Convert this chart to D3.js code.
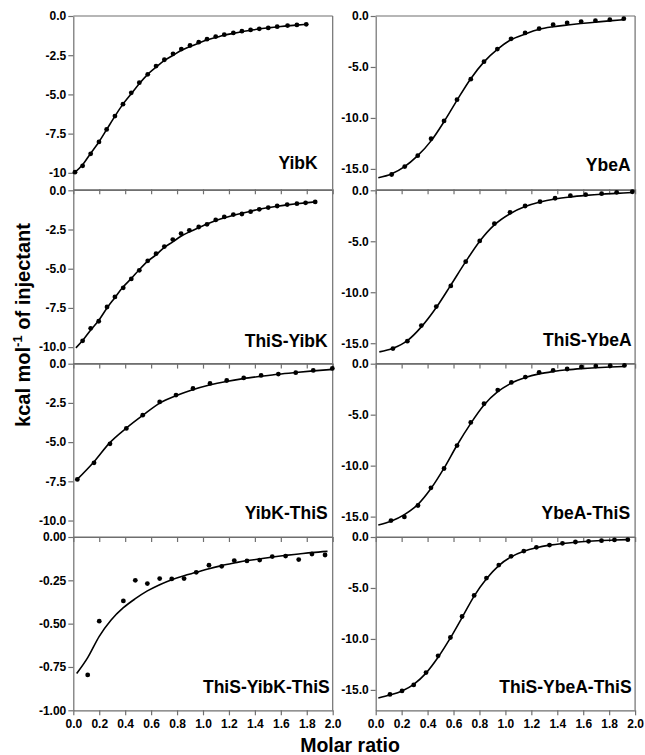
<!DOCTYPE html>
<html lang="en">
<head>
<meta charset="UTF-8">
<title>ITC titrations</title>
<script src="https://d3js.org/d3.v7.min.js"></script>
<style>
  body { margin: 0; background: #fff; font-family: Arial, "Liberation Sans", sans-serif; }
</style>
</head>
<body>
<div id="chart"></div>
<script>
// panel names, in row order (left column, right column)
const leftNames = ["YibK", "ThiS-YibK", "YibK-ThiS", "ThiS-YibK-ThiS"];
const rightNames = ["YbeA", "ThiS-YbeA", "YbeA-ThiS", "ThiS-YbeA-ThiS"];

// x tick labels (molar ratio)
const xTicks = [0, 0.2, 0.4, 0.6, 0.8, 1.0, 1.2, 1.4, 1.6, 1.8, 2.0];
const xTickLabels = ["0.0", "0.2", "0.4", "0.6", "0.8", "1.0", "1.2", "1.4", "1.6", "1.8", "2.0"];

// y tick values / labels
const yTicksLeft = [0, -2.5, -5, -7.5, -10];
const yLabelsYibK = ["0.0", "-2.5", "-5.0", "-7.5", "-10"];
const yLabelsLeft = ["0.0", "-2.5", "-5.0", "-7.5", "-10.0"];
const yTicksSmall = [0, -0.25, -0.5, -0.75, -1.0];
const yLabelsSmall = ["0.00", "-0.25", "-0.50", "-0.75", "-1.00"];
const yTicksRight = [0, -5, -10, -15];
const yLabelsRight = ["0.0", "-5.0", "-10.0", "-15.0"];

// measured injections [molar ratio, kcal/mol]
const yibkPts = [[0.013,-9.96],[0.072,-9.55],[0.134,-8.79],[0.198,-8.03],[0.257,-7.23],[0.321,-6.38],[0.383,-5.62],[0.447,-4.90],[0.509,-4.25],[0.574,-3.72],[0.638,-3.19],[0.702,-2.79],[0.769,-2.41],[0.833,-2.11],[0.900,-1.88],[0.967,-1.67],[1.031,-1.48],[1.098,-1.31],[1.164,-1.19],[1.234,-1.08],[1.300,-0.97],[1.367,-0.89],[1.434,-0.82],[1.503,-0.76],[1.572,-0.68],[1.652,-0.61],[1.724,-0.57],[1.796,-0.53]];
const thisYibkPts = [[0.072,-9.60],[0.134,-8.80],[0.196,-8.35],[0.260,-7.44],[0.321,-6.80],[0.385,-6.22],[0.447,-5.65],[0.509,-5.10],[0.574,-4.50],[0.638,-4.04],[0.702,-3.59],[0.767,-3.14],[0.831,-2.76],[0.895,-2.55],[0.967,-2.34],[1.031,-2.17],[1.098,-1.89],[1.164,-1.70],[1.234,-1.55],[1.300,-1.51],[1.367,-1.36],[1.434,-1.21],[1.503,-1.10],[1.572,-1.00],[1.649,-0.91],[1.724,-0.85],[1.791,-0.80],[1.865,-0.74]];
const yibkThisPts = [[0.031,-7.38],[0.160,-6.32],[0.283,-5.11],[0.409,-4.13],[0.535,-3.28],[0.666,-2.44],[0.792,-2.00],[0.923,-1.58],[1.054,-1.26],[1.183,-1.07],[1.314,-0.91],[1.448,-0.75],[1.581,-0.66],[1.715,-0.57],[1.850,-0.43],[1.997,-0.30]];
const thisYibkThisPts = [[0.111,-0.796],[0.200,-0.486],[0.386,-0.369],[0.478,-0.250],[0.571,-0.269],[0.666,-0.240],[0.759,-0.242],[0.854,-0.240],[0.948,-0.204],[1.046,-0.163],[1.144,-0.169],[1.241,-0.136],[1.339,-0.138],[1.437,-0.133],[1.534,-0.113],[1.637,-0.110],[1.738,-0.130],[1.840,-0.098],[1.941,-0.104]];
const ybeaPts = [[0.123,-15.55],[0.224,-14.77],[0.324,-13.70],[0.427,-12.04],[0.527,-10.29],[0.627,-8.21],[0.733,-6.20],[0.835,-4.48],[0.938,-3.24],[1.044,-2.24],[1.152,-1.66],[1.260,-1.24],[1.368,-0.85],[1.476,-0.68],[1.584,-0.55],[1.694,-0.46],[1.805,-0.36],[1.913,-0.26]];
const thisYbeaPts = [[0.133,-15.53],[0.244,-14.80],[0.352,-13.27],[0.467,-11.41],[0.579,-9.38],[0.694,-7.00],[0.802,-4.97],[0.915,-3.27],[1.036,-2.16],[1.152,-1.54],[1.267,-1.12],[1.383,-0.78],[1.501,-0.53],[1.619,-0.43],[1.742,-0.33],[1.858,-0.20],[1.979,-0.14]];
const ybeaThisPts = [[0.118,-15.39],[0.221,-15.03],[0.326,-13.91],[0.426,-12.18],[0.527,-10.28],[0.627,-8.03],[0.733,-5.76],[0.835,-3.93],[0.941,-2.59],[1.046,-1.84],[1.154,-1.31],[1.260,-0.85],[1.368,-0.66],[1.476,-0.52],[1.586,-0.32],[1.697,-0.23],[1.808,-0.20],[1.918,-0.17]];
const thisYbeaThisPts = [[0.110,-15.44],[0.203,-15.10],[0.293,-14.51],[0.388,-13.30],[0.481,-11.66],[0.576,-9.86],[0.666,-7.80],[0.759,-5.73],[0.854,-4.03],[0.949,-2.75],[1.044,-1.90],[1.142,-1.38],[1.239,-1.01],[1.340,-0.79],[1.440,-0.62],[1.540,-0.49],[1.641,-0.42],[1.741,-0.36],[1.841,-0.29],[1.944,-0.26]];

// fitted curves
const yibkFit = [[0.01,-9.98],[0.07,-9.5],[0.13,-8.8],[0.2,-8.0],[0.26,-7.2],[0.32,-6.4],[0.38,-5.65],[0.45,-4.92],[0.51,-4.3],[0.57,-3.75],[0.64,-3.25],[0.7,-2.85],[0.77,-2.5],[0.83,-2.2],[0.9,-1.95],[0.97,-1.72],[1.03,-1.53],[1.1,-1.37],[1.16,-1.23],[1.23,-1.11],[1.3,-1.0],[1.37,-0.91],[1.43,-0.83],[1.5,-0.76],[1.57,-0.7],[1.65,-0.63],[1.72,-0.58],[1.8,-0.53]];
const thisYibkFit = [[0.02,-10.05],[0.07,-9.6],[0.13,-8.95],[0.2,-8.25],[0.26,-7.5],[0.32,-6.85],[0.38,-6.2],[0.45,-5.6],[0.51,-5.05],[0.57,-4.55],[0.64,-4.1],[0.7,-3.65],[0.77,-3.27],[0.83,-2.93],[0.9,-2.63],[0.97,-2.37],[1.03,-2.15],[1.1,-1.93],[1.16,-1.76],[1.23,-1.6],[1.3,-1.46],[1.37,-1.33],[1.43,-1.21],[1.5,-1.11],[1.57,-1.02],[1.65,-0.93],[1.72,-0.86],[1.79,-0.8],[1.865,-0.74]];
const yibkThisFit = [[0.03,-7.38],[0.16,-6.25],[0.28,-5.05],[0.41,-4.1],[0.535,-3.3],[0.67,-2.5],[0.79,-2.05],[0.92,-1.66],[1.05,-1.36],[1.18,-1.13],[1.31,-0.95],[1.45,-0.8],[1.58,-0.67],[1.715,-0.56],[1.85,-0.46],[2.0,-0.36]];
const thisYibkThisFit = [[0.026,-0.788],[0.111,-0.696],[0.2,-0.573],[0.29,-0.48],[0.386,-0.408],[0.478,-0.356],[0.571,-0.311],[0.666,-0.275],[0.759,-0.246],[0.854,-0.223],[0.948,-0.204],[1.046,-0.183],[1.144,-0.165],[1.241,-0.15],[1.339,-0.136],[1.437,-0.127],[1.534,-0.115],[1.637,-0.106],[1.738,-0.098],[1.84,-0.09],[1.96,-0.083]];
const ybeaFit = [[0.02,-15.87],[0.12,-15.5],[0.22,-14.8],[0.32,-13.75],[0.43,-12.2],[0.53,-10.3],[0.63,-8.2],[0.73,-6.2],[0.835,-4.5],[0.94,-3.25],[1.04,-2.35],[1.15,-1.78],[1.26,-1.3],[1.37,-1.05],[1.48,-0.88],[1.58,-0.74],[1.69,-0.61],[1.8,-0.48],[1.91,-0.36]];
const thisYbeaFit = [[0.028,-15.85],[0.133,-15.5],[0.244,-14.75],[0.352,-13.4],[0.467,-11.5],[0.579,-9.3],[0.694,-7.0],[0.802,-5.0],[0.915,-3.4],[1.036,-2.3],[1.152,-1.6],[1.267,-1.15],[1.383,-0.85],[1.5,-0.65],[1.62,-0.5],[1.74,-0.38],[1.86,-0.3],[1.98,-0.22]];
const ybeaThisFit = [[0.02,-15.82],[0.118,-15.45],[0.221,-14.8],[0.326,-13.8],[0.426,-12.25],[0.527,-10.25],[0.627,-8.0],[0.733,-5.85],[0.835,-4.05],[0.941,-2.75],[1.046,-1.9],[1.154,-1.35],[1.26,-1.0],[1.368,-0.77],[1.476,-0.6],[1.586,-0.48],[1.697,-0.39],[1.808,-0.32],[1.918,-0.27]];
const thisYbeaThisFit = [[0.02,-15.79],[0.11,-15.5],[0.203,-15.1],[0.293,-14.45],[0.388,-13.35],[0.481,-11.8],[0.576,-9.9],[0.666,-7.9],[0.759,-5.8],[0.854,-4.1],[0.949,-2.8],[1.044,-1.95],[1.142,-1.4],[1.239,-1.05],[1.34,-0.8],[1.44,-0.63],[1.54,-0.51],[1.641,-0.42],[1.741,-0.35],[1.841,-0.3],[1.944,-0.26]];

const W = 645, H = 755;
const colX = [73.3, 375.7], plotW = 259.4;
const rowTop = [16, 190.3, 363.7, 537], plotH = 173.3;
const frameColor = "#6f6f6f";
const fontFam = "Arial, 'Liberation Sans', sans-serif";

const panels = [
  {name: leftNames[0], col: 0, row: 0, pts: yibkPts, fit: yibkFit, ymin: -11.05, yt: yTicksLeft, yl: yLabelsYibK, labDx: 15, labDy: 20},
  {name: leftNames[1], col: 0, row: 1, pts: thisYibkPts, fit: thisYibkFit, ymin: -11.05, yt: yTicksLeft, yl: yLabelsLeft, labDx: 5, labDy: 17},
  {name: leftNames[2], col: 0, row: 2, pts: yibkThisPts, fit: yibkThisFit, ymin: -11.05, yt: yTicksLeft, yl: yLabelsLeft, labDx: 5, labDy: 17.5},
  {name: leftNames[3], col: 0, row: 3, pts: thisYibkThisPts, fit: thisYibkThisFit, ymin: -1.0, yt: yTicksSmall, yl: yLabelsSmall, labDx: 3, labDy: 17},
  {name: rightNames[0], col: 1, row: 0, pts: ybeaPts, fit: ybeaFit, ymin: -17, yt: yTicksRight, yl: yLabelsRight, labDx: 4.5, labDy: 18},
  {name: rightNames[1], col: 1, row: 1, pts: thisYbeaPts, fit: thisYbeaFit, ymin: -17, yt: yTicksRight, yl: yLabelsRight, labDx: 3.5, labDy: 17.5},
  {name: rightNames[2], col: 1, row: 2, pts: ybeaThisPts, fit: ybeaThisFit, ymin: -17, yt: yTicksRight, yl: yLabelsRight, labDx: 5, labDy: 17.5},
  {name: rightNames[3], col: 1, row: 3, pts: thisYbeaThisPts, fit: thisYbeaThisFit, ymin: -17, yt: yTicksRight, yl: yLabelsRight, labDx: 3.5, labDy: 17.5}
];

const svg = d3.select("#chart").append("svg")
  .attr("width", W).attr("height", H)
  .attr("font-family", fontFam);

panels.forEach(p => {
  const x0 = colX[p.col], y0 = rowTop[p.row];
  const g = svg.append("g").attr("transform", `translate(${x0},${y0})`);

  const x = d3.scaleLinear().domain([0, 2]).range([0, plotW]);
  const y = d3.scaleLinear().domain([p.ymin, 0]).range([plotH, 0]);

  // frame: top and right
  g.append("line").attr("x1", 0).attr("x2", plotW).attr("y1", 0).attr("y2", 0)
    .attr("stroke", frameColor).attr("stroke-width", 1.2);
  g.append("line").attr("x1", plotW).attr("x2", plotW).attr("y1", 0).attr("y2", plotH)
    .attr("stroke", frameColor).attr("stroke-width", 1.2);

  // x axis at bottom, ticks pointing down
  const xa = d3.axisBottom(x).tickValues(xTicks).tickSize(5).tickSizeOuter(0).tickPadding(4)
    .tickFormat((d, i) => p.row === 3 ? xTickLabels[i] : "");
  const gx = g.append("g").attr("transform", `translate(0,${plotH})`).call(xa)
    .attr("font-family", fontFam).attr("font-size", 12).attr("font-weight", "bold");
  gx.selectAll("path, line").attr("stroke", frameColor).attr("stroke-width", 1.2);
  gx.selectAll("text").attr("fill", "#000");

  // y axis
  const ya = d3.axisLeft(y).tickValues(p.yt).tickSize(5).tickSizeOuter(0).tickPadding(2)
    .tickFormat((d, i) => p.yl[i]);
  const gy = g.append("g").call(ya)
    .attr("font-family", fontFam).attr("font-size", 12).attr("font-weight", "bold");
  gy.selectAll("path, line").attr("stroke", frameColor).attr("stroke-width", 1.2);
  gy.selectAll("text").attr("fill", "#000");

  const clipId = "clip" + p.col + p.row;
  g.append("clipPath").attr("id", clipId).append("rect")
    .attr("x", -3).attr("y", -3).attr("width", plotW + 6).attr("height", plotH + 3);

  // fitted curve
  g.append("path").datum(p.fit)
    .attr("fill", "none").attr("stroke", "#000").attr("stroke-width", 1.6)
    .attr("clip-path", `url(#${clipId})`)
    .attr("d", d3.line().x(d => x(d[0])).y(d => y(d[1])).curve(d3.curveMonotoneX));

  // injections
  g.selectAll("circle.pt").data(p.pts).join("circle")
    .attr("class", "pt")
    .attr("cx", d => x(d[0])).attr("cy", d => y(d[1])).attr("r", 2.4)
    .attr("fill", "#000");

  // panel label
  g.append("text")
    .attr("x", plotW - p.labDx).attr("y", plotH - p.labDy)
    .attr("text-anchor", "end")
    .attr("font-weight", "bold").attr("font-size", 17.5)
    .text(p.name);
});

// axis titles
const yTitle = svg.append("text")
  .attr("transform", "translate(30,325) rotate(-90)")
  .attr("text-anchor", "middle")
  .attr("font-weight", "bold").attr("font-size", 20);
yTitle.append("tspan").text("kcal mol");
yTitle.append("tspan").attr("font-size", 13).attr("dy", -8).text("-1");
yTitle.append("tspan").attr("dy", 8).text(" of injectant");

svg.append("text")
  .attr("x", 350).attr("y", 752)
  .attr("text-anchor", "middle")
  .attr("font-weight", "bold").attr("font-size", 19.5)
  .text("Molar ratio");
</script>
</body>
</html>
